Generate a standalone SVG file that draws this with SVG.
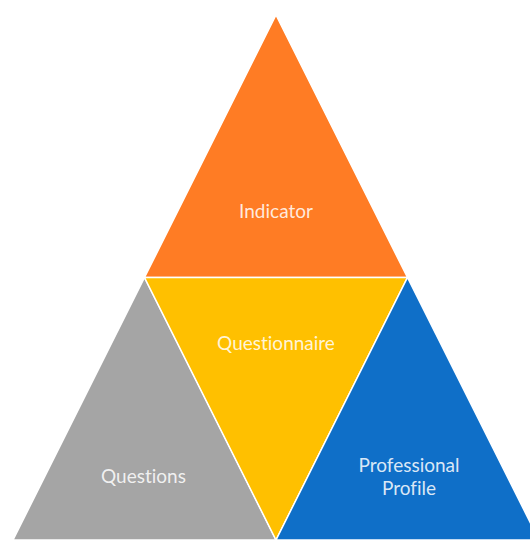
<svg xmlns="http://www.w3.org/2000/svg" width="530" height="540" viewBox="0 0 530 540">
  <style>
    .piece { stroke: #ffffff; stroke-width: 1.5; stroke-linejoin: miter; }
    .label { font-family: Lato, "Liberation Sans", sans-serif; font-size: 19px; font-variant-ligatures: none; fill: #ffffff; fill-opacity: 0.85; text-anchor: middle; }
  </style>
  <rect width="530" height="540" fill="#ffffff"/>
  <g id="indicator">
    <polygon class="piece" points="276,15 407.5,277.5 144.5,277.5" fill="#FF7C24"/>
    <text class="label" x="276" y="218">Indicator</text>
  </g>
  <g id="questions">
    <polygon class="piece" points="144.5,277.5 276,540 13,540" fill="#A5A5A5"/>
    <text class="label" x="143.5" y="483">Questions</text>
  </g>
  <g id="questionnaire">
    <polygon class="piece" points="144.5,277.5 407.5,277.5 276,540" fill="#FFC000"/>
    <text class="label" x="276" y="350">Questionnaire</text>
  </g>
  <g id="professional-profile">
    <polygon class="piece" points="407.5,277.5 539,540 276,540" fill="#0F6FC8"/>
    <text class="label" x="409" y="472">Professional</text>
    <text class="label" x="409" y="495">Profile</text>
  </g>
  <g id="connectors"/>
</svg>
